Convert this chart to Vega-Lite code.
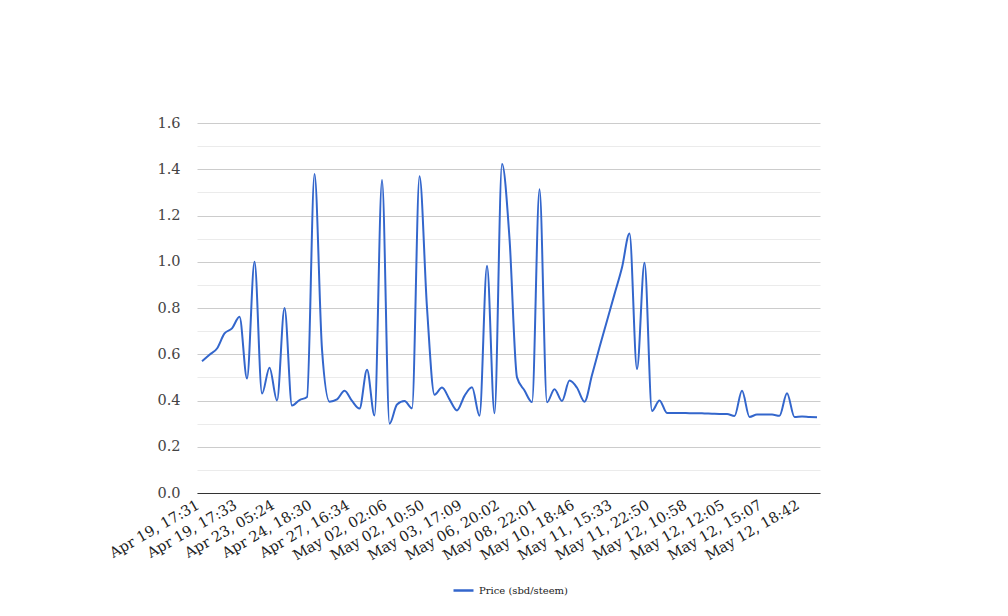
{
  "$schema": "https://vega.github.io/schema/vega-lite/v6.json",
  "width": 623,
  "height": 370,
  "autosize": {"type": "none"},
  "padding": {"left": 197, "top": 123, "right": 188, "bottom": 123},
  "background": "white",
  "config": {"view": {"stroke": null}, "font": "DejaVu Serif"},
  "data": {"values": [
    {"i":0,"price":0.57},{"i":1,"price":0.598},{"i":2,"price":0.625},{"i":3,"price":0.69},{"i":4,"price":0.712},
    {"i":5,"price":0.762},{"i":6,"price":0.495},{"i":7,"price":1.0},{"i":8,"price":0.43},{"i":9,"price":0.542},
    {"i":10,"price":0.40},{"i":11,"price":0.80},{"i":12,"price":0.378},{"i":13,"price":0.402},{"i":14,"price":0.415},
    {"i":15,"price":1.38},{"i":16,"price":0.62},{"i":17,"price":0.395},{"i":18,"price":0.405},{"i":19,"price":0.442},
    {"i":20,"price":0.398},{"i":21,"price":0.365},{"i":22,"price":0.533},{"i":23,"price":0.335},{"i":24,"price":1.353},
    {"i":25,"price":0.30},{"i":26,"price":0.383},{"i":27,"price":0.398},{"i":28,"price":0.366},{"i":29,"price":1.37},
    {"i":30,"price":0.80},{"i":31,"price":0.425},{"i":32,"price":0.456},{"i":33,"price":0.405},{"i":34,"price":0.357},
    {"i":35,"price":0.42},{"i":36,"price":0.457},{"i":37,"price":0.334},{"i":38,"price":0.983},{"i":39,"price":0.345},
    {"i":40,"price":1.423},{"i":41,"price":1.10},{"i":42,"price":0.50},{"i":43,"price":0.443},{"i":44,"price":0.393},
    {"i":45,"price":1.313},{"i":46,"price":0.392},{"i":47,"price":0.449},{"i":48,"price":0.398},{"i":49,"price":0.486},
    {"i":50,"price":0.455},{"i":51,"price":0.395},{"i":52,"price":0.51},{"i":53,"price":0.63},{"i":54,"price":0.745},
    {"i":55,"price":0.86},{"i":56,"price":0.975},{"i":57,"price":1.122},{"i":58,"price":0.536},{"i":59,"price":0.996},
    {"i":60,"price":0.355},{"i":61,"price":0.40},{"i":62,"price":0.346},{"i":63,"price":0.346},{"i":64,"price":0.346},
    {"i":65,"price":0.345},{"i":66,"price":0.345},{"i":67,"price":0.344},{"i":68,"price":0.343},{"i":69,"price":0.342},
    {"i":70,"price":0.342},{"i":71,"price":0.333},{"i":72,"price":0.442},{"i":73,"price":0.329},{"i":74,"price":0.339},
    {"i":75,"price":0.339},{"i":76,"price":0.339},{"i":77,"price":0.334},{"i":78,"price":0.431},{"i":79,"price":0.329},
    {"i":80,"price":0.331},{"i":81,"price":0.329},{"i":82,"price":0.328}
  ]},
  "mark": {"type": "line", "interpolate": "monotone", "strokeWidth": 2},
  "encoding": {
    "x": {
      "field": "i",
      "type": "quantitative",
      "scale": {"domain": [-0.67, 82.4], "nice": false, "zero": false},
      "axis": {
        "title": null,
        "values": [0,5,10,15,20,25,30,35,40,45,50,55,60,65,70,75,80],
        "labelExpr": "['Apr 19, 17:31','Apr 19, 17:33','Apr 23, 05:24','Apr 24, 18:30','Apr 27, 16:34','May 02, 02:06','May 02, 10:50','May 03, 17:09','May 06, 20:02','May 08, 22:01','May 10, 18:46','May 11, 15:33','May 11, 22:50','May 12, 10:58','May 12, 12:05','May 12, 15:07','May 12, 18:42'][round(datum.value/5)]",
        "grid": false,
        "ticks": false,
        "domain": true,
        "domainColor": "#333333",
        "domainWidth": 1,
        "labelAngle": -30,
        "labelAlign": "right",
        "labelBaseline": "middle",
        "labelPadding": 11,
        "labelOffset": -4,
        "labelFontSize": 14.5,
        "labelColor": "#222222",
        "labelOverlap": false,
        "labelFlush": false,
        "labelBound": false
      }
    },
    "y": {
      "field": "price",
      "type": "quantitative",
      "scale": {"domain": [0, 1.6], "nice": false},
      "axis": {
        "title": null,
        "values": [0,0.1,0.2,0.3,0.4,0.5,0.6,0.7,0.8,0.9,1.0,1.1,1.2,1.3,1.4,1.5,1.6],
        "labelExpr": "round(datum.value*10) % 2 == 1 ? '' : format(datum.value, '.1f')",
        "grid": true,
        "gridColor": {"condition": {"test": "round(datum.value*10) % 2 == 1", "value": "#ebebeb"}, "value": "#cccccc"},
        "ticks": false,
        "domain": false,
        "labelPadding": 17,
        "labelFontSize": 14.5,
        "labelColor": "#444444"
      }
    },
    "color": {
      "datum": "Price (sbd/steem)",
      "type": "nominal",
      "scale": {"range": ["#3366cc"]},
      "legend": {
        "title": null,
        "orient": "none",
        "legendX": 255,
        "legendY": 456,
        "symbolType": "stroke",
        "symbolSize": 400,
        "symbolStrokeWidth": 2.5,
        "labelFontSize": 10,
        "labelColor": "#222222",
        "labelFont": "DejaVu Serif"
      }
    }
  }
}
